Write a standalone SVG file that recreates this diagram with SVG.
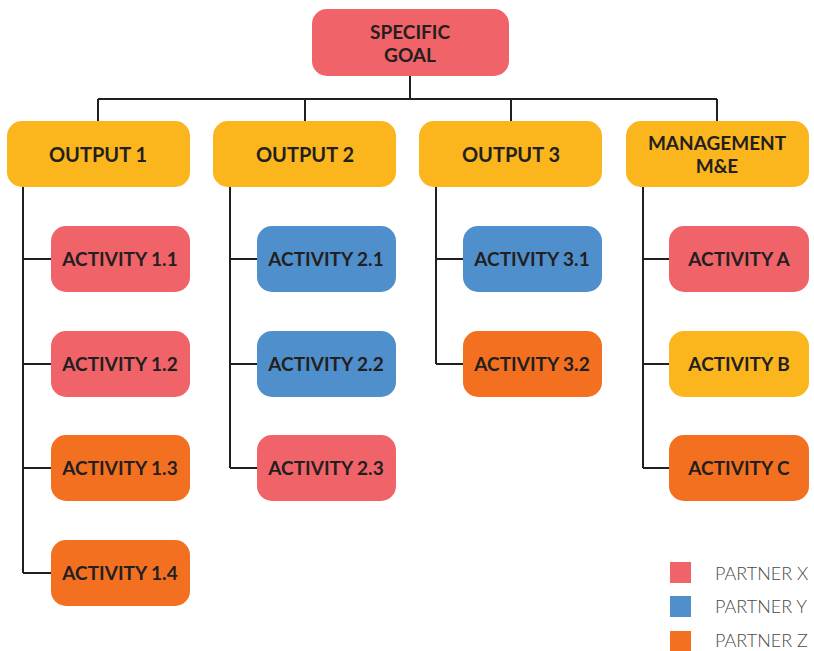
<svg xmlns="http://www.w3.org/2000/svg" width="814" height="651" viewBox="0 0 814 651">
<style>
.red{fill:#F06368}.yel{fill:#FBB51D}.blue{fill:#4F8FCC}.org{fill:#F37021}
.t{font-family:Lato,"Liberation Sans",sans-serif;font-weight:700;font-size:19px;fill:#231F20;text-anchor:middle}
.g{font-size:20px}
.g2{font-size:19px}
.lg{font-family:Lato,"Liberation Sans",sans-serif;font-weight:300;font-size:18px;fill:#4a4a4a}
.c{fill:none;stroke:#231F20;stroke-width:2}
</style>
<g id="connectors">
<path class="c" d="M410 76V99M98 99H717M98 99V121M305 99V121M511 99V121M717 99V121"/>
<path class="c" d="M23 187V573M23 259H51M23 364H51M23 468H51M23 573H51"/>
<path class="c" d="M230 187V468M230 259H257M230 364H257M230 468H257"/>
<path class="c" d="M436 187V364M436 259H463M436 364H463"/>
<path class="c" d="M643 187V468M643 259H669M643 364H669M643 468H669"/>
</g>
<g id="goal"><rect class="red" x="312" y="9" width="197" height="67" rx="15"/><text class="t g2" x="410" y="39">SPECIFIC</text><text class="t g2" x="410" y="62">GOAL</text></g>
<g id="output1"><rect class="yel" x="7" y="121" width="183" height="66" rx="15"/><text class="t g" x="98" y="162">OUTPUT 1</text></g>
<g id="output2"><rect class="yel" x="213" y="121" width="183" height="66" rx="15"/><text class="t g" x="305" y="162">OUTPUT 2</text></g>
<g id="output3"><rect class="yel" x="419" y="121" width="183" height="66" rx="15"/><text class="t g" x="511" y="162">OUTPUT 3</text></g>
<g id="management"><rect class="yel" x="626" y="121" width="183" height="66" rx="15"/><text class="t g2" x="717" y="150">MANAGEMENT</text><text class="t g2" x="717" y="173">M&amp;E</text></g>
<g id="a11"><rect class="red" x="51" y="226" width="139" height="66" rx="15"/><text class="t" x="120" y="266">ACTIVITY 1.1</text></g>
<g id="a12"><rect class="red" x="51" y="331" width="139" height="66" rx="15"/><text class="t" x="120" y="371">ACTIVITY 1.2</text></g>
<g id="a13"><rect class="org" x="51" y="435" width="139" height="66" rx="15"/><text class="t" x="120" y="475">ACTIVITY 1.3</text></g>
<g id="a14"><rect class="org" x="51" y="540" width="139" height="66" rx="15"/><text class="t" x="120" y="580">ACTIVITY 1.4</text></g>
<g id="a21"><rect class="blue" x="257" y="226" width="139" height="66" rx="15"/><text class="t" x="326" y="266">ACTIVITY 2.1</text></g>
<g id="a22"><rect class="blue" x="257" y="331" width="139" height="66" rx="15"/><text class="t" x="326" y="371">ACTIVITY 2.2</text></g>
<g id="a23"><rect class="red" x="257" y="435" width="139" height="66" rx="15"/><text class="t" x="326" y="475">ACTIVITY 2.3</text></g>
<g id="a31"><rect class="blue" x="463" y="226" width="139" height="66" rx="15"/><text class="t" x="532" y="266">ACTIVITY 3.1</text></g>
<g id="a32"><rect class="org" x="463" y="331" width="139" height="66" rx="15"/><text class="t" x="532" y="371">ACTIVITY 3.2</text></g>
<g id="aA"><rect class="red" x="669" y="226" width="140" height="66" rx="15"/><text class="t" x="739" y="266">ACTIVITY A</text></g>
<g id="aB"><rect class="yel" x="669" y="331" width="140" height="66" rx="15"/><text class="t" x="739" y="371">ACTIVITY B</text></g>
<g id="aC"><rect class="org" x="669" y="435" width="140" height="66" rx="15"/><text class="t" x="739" y="475">ACTIVITY C</text></g>
<g id="legend">
<rect class="red" x="670" y="562" width="21" height="21"/><text class="lg" x="715" y="580">PARTNER X</text>
<rect class="blue" x="670" y="596" width="21" height="21"/><text class="lg" x="715" y="613">PARTNER Y</text>
<rect class="org" x="670" y="631" width="21" height="20"/><text class="lg" x="715" y="647">PARTNER Z</text>
</g>
</svg>
